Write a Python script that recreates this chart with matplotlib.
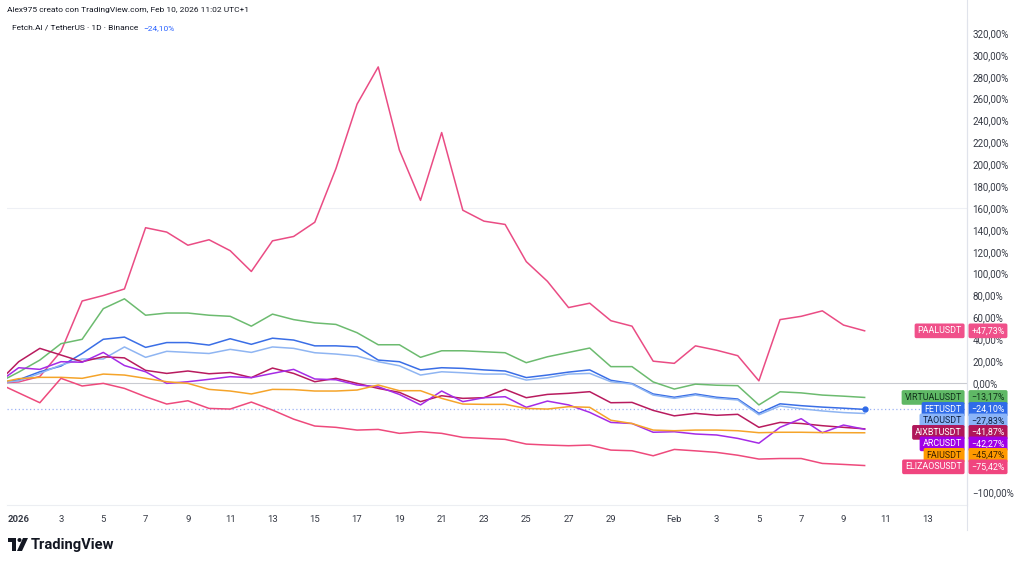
import numpy as np
import pandas as pd
import matplotlib
matplotlib.use("Agg")
import matplotlib.pyplot as plt
import matplotlib.dates as mdates
import matplotlib.transforms as mtransforms
from matplotlib.patches import Polygon, Circle

plt.rcParams['font.family'] = ['Roboto', 'DejaVu Sans']

# daily closes, % change vs 31 Dec 2025
dates = pd.date_range('2025-12-31', '2026-02-10', freq='D')

paal = [0, 1, 6, 29, 75, 80, 86, 142, 138, 126, 131, 121, 102, 130, 134, 147, 196, 255, 289, 213,
        167, 229, 158, 148, 145, 111, 93, 69, 73, 57, 52, 20,
        18, 34, 30, 25, 2, 58, 61, 66, 53, 47.73]
virtual = [0, 10, 21, 36, 40, 68, 77, 62, 64, 64, 62, 61, 52, 63, 58, 55, 53.6, 46, 35, 35,
           23.5, 29.5, 29.5, 28.6, 27.7, 18.6, 24, 28, 32, 15, 15, 1,
           -5.5, -1, -2, -2.4, -20, -8, -9, -11, -12, -13.17]
fet = [0, 3, 10.3, 15.5, 27, 40, 42, 32.6, 37, 37, 34.7, 40.5, 35.4, 41, 39.3, 34, 34, 33, 21, 19.5,
       12, 14, 13.4, 12, 11, 5, 7.3, 10, 12, 2.5, -0.5, -10,
       -13, -10, -13, -14.6, -27.7, -19, -20.7, -22, -23, -24.10]
tao = [0, 2, 8.8, 16.5, 22, 22, 33, 23.5, 29, 28, 27, 30.8, 28, 33, 31.7, 27.7, 26.5, 24.7, 19.5, 15.8,
       7.3, 10.3, 9.4, 8.2, 8.2, 2.7, 4.8, 8.2, 8.8, 1.2, -1, -11,
       -14, -11, -14, -15.5, -29, -21, -23.5, -25.5, -27, -27.83]
aixbt = [0, 19.5, 31.7, 25.6, 19.5, 24, 23, 11.6, 8.8, 11, 8.5, 9.6, 5, 13.7, 8.8, 1.2, 4.3, -0.3, -4.9, -8.5,
         -17, -11.6, -14, -13.4, -5.8, -13.4, -10.4, -9.4, -7.9, -18, -17.7, -25,
         -30, -27.7, -29.5, -28.6, -40.5, -36, -37, -39, -40.5, -41.87]
arc = [0, 14, 12.5, 19.5, 19, 28, 16, 10.3, -0.3, 1.2, 3.4, 5.8, 4.9, 8.8, 12.5, 3.7, 3, -1.8, -3.4, -10.4,
       -20, -7.3, -17, -13.4, -12.5, -22.2, -16.5, -20, -26.8, -36, -37, -45,
       -44.5, -46.6, -47.5, -50.6, -55, -40.5, -32.6, -45.4, -38.4, -42.27]
fai = [0, 4, 5.2, 5.2, 4.3, 8.2, 7.3, 4.3, 1.2, -0.3, -5.8, -7.3, -10, -5.8, -6, -7.3, -7.3, -6.4, -1.8, -7,
       -7, -14, -19.2, -19.5, -19.5, -23.2, -23.8, -21.6, -22.2, -34, -37, -43,
       -43.6, -43, -43, -43.6, -45.4, -45, -45, -45.3, -45.4, -45.47]
elizaos = [0, -9, -18, 4.3, -2.7, -0.3, -4.9, -12.5, -19.2, -16.2, -23.2, -23.8, -17.4, -24.7, -33, -39.3, -40.5, -43, -42.4, -46,
           -44.5, -46, -49.7, -50.6, -51.5, -55.8, -56.7, -57.3, -56.7, -61.3, -61.9, -66.5,
           -60.7, -62, -63.4, -66, -69.5, -69, -69, -73.5, -74.4, -75.42]

names = ['PAALUSDT', 'VIRTUALUSDT', 'FETUSDT', 'TAOUSDT', 'AIXBTUSDT', 'ARCUSDT', 'FAIUSDT', 'ELIZAOSUSDT']
values = [paal, virtual, fet, tao, aixbt, arc, fai, elizaos]
line_colors = ['#ea4c84', '#6cbb6f', '#3a6ee6', '#8fb5f2', '#b81b5e', '#a52be6', '#f5a42a', '#ee4a7c']
box_colors = ['#f0508a', '#5fb865', '#2f6be8', '#8ab4f8', '#b0175a', '#a000e6', '#ff9a00', '#f0457f']
text_colors = ['white', '#10301a', 'white', '#102040', 'white', 'white', '#3a2000', 'white']

xt_dates = ['2026-01-01'] + ['2026-01-%02d' % d for d in range(3, 30, 2)] + \
           ['2026-02-01'] + ['2026-02-%02d' % d for d in range(3, 14, 2)]
xt_labels = ['2026'] + [str(d) for d in range(3, 30, 2)] + ['Feb'] + [str(d) for d in range(3, 14, 2)]
yt_values = [-100] + list(range(0, 321, 20))   # -20..-80 sit behind the series labels

W, H = 1024, 564
fig = plt.figure(figsize=(W / 100, H / 100), dpi=100)
ax = fig.add_axes([7 / W, 1 - 505 / H, (967 - 7) / W, (505 - 20) / H])

x = mdates.date2num(dates)
jan1 = mdates.date2num(pd.Timestamp('2026-01-01'))

ax.axhline(0, color='#c9cbd1', lw=0.8, zorder=1)
ax.axhline(160, color='#eef0f5', lw=0.8, zorder=1)
ax.axhline(fet[-1], color='#9db3f5', lw=0.9, ls=(0, (1, 2)), zorder=1)

for vals, c in zip(values, line_colors):
    ax.plot(x, vals, color=c, lw=1.1, zorder=2)
ax.plot(x[-1], fet[-1], 'o', ms=3.5, color='#2f6be8', zorder=3)

ax.set_xlim(jan1 - 0.553, jan1 + 44.84)
ax.set_ylim(-111.5, 331.9)

def pct(v):
    s = ('%.2f' % abs(v)).replace('.', ',') + '%'
    return ('\u2212' + s) if v < 0 else s

ax.yaxis.tick_right()
ax.set_yticks(yt_values)
ax.set_yticklabels([pct(v) for v in yt_values])
ax.tick_params(axis='y', length=0, pad=4, labelsize=7, labelcolor='#363a45')

ax.set_xticks([mdates.date2num(pd.Timestamp(d)) for d in xt_dates])
ax.set_xticklabels(xt_labels)
ax.tick_params(axis='x', length=0, pad=7, labelsize=6.8, labelcolor='#363a45')
ax.get_xticklabels()[0].set_fontweight('bold')

for s in ['top', 'left']:
    ax.spines[s].set_visible(False)
ax.spines['right'].set_color('#e0e3eb')
ax.spines['bottom'].set_color('#eceef2')
fig.add_artist(plt.Line2D([967 / W, 967 / W], [1 - 530 / H, 1], color='#e0e3eb', lw=0.8))

# right-side series labels, stacked so they do not overlap
trans = mtransforms.blended_transform_factory(ax.transAxes, ax.transData)
order = sorted(range(len(values)), key=lambda i: -values[i][-1])
gap = 10.5
prev = None
for i in order:
    last = values[i][-1]
    ypos = last if prev is None else min(last, prev - gap)
    prev = ypos
    box = dict(boxstyle='round,pad=0.32,rounding_size=0.2', fc=box_colors[i], ec='none')
    ax.text(0.9945, ypos, names[i], transform=trans, ha='right', va='center', fontsize=6.4,
            color=text_colors[i], bbox=box, clip_on=False, zorder=5)
    sign = '+' if last > 0 else ''
    ax.text(1.0045, ypos, sign + pct(last), transform=trans, ha='left', va='center', fontsize=6.4,
            color=text_colors[i], bbox=box, clip_on=False, zorder=5)

# header
fig.text(7 / W, 1 - 10 / H, 'Alex975 creato con TradingView.com, Feb 10, 2026 11:02 UTC+1',
         fontsize=6.0, va='center', color='#131722')
fig.text(12 / W, 1 - 28 / H, 'Fetch.AI / TetherUS \u00b7 1D \u00b7 Binance',
         fontsize=6.0, va='center', color='#131722')
fig.text(143 / W, 1 - 28 / H, '\u221224,10%', fontsize=6.0, va='center', color='#2962ff')

# TradingView logo
def px(xp, yp):
    return (xp, H - yp)

logo_c = '#131722'
fig.patches.append(Polygon([px(8, 538), px(16, 538), px(16, 551), px(12, 551), px(12, 542), px(8, 542)],
                           closed=True, fc=logo_c, ec='none', transform=None, figure=fig))
fig.patches.append(Circle(px(19.5, 540), 2.0, fc=logo_c, ec='none', transform=None, figure=fig))
fig.patches.append(Polygon([px(23, 538), px(28, 538), px(22, 551), px(17, 551)],
                           closed=True, fc=logo_c, ec='none', transform=None, figure=fig))
fig.text(31 / W, 1 - 544.5 / H, 'TradingView', fontsize=10.6, fontweight='bold', va='center', color=logo_c)

fig.savefig('out.png', dpi=100)
